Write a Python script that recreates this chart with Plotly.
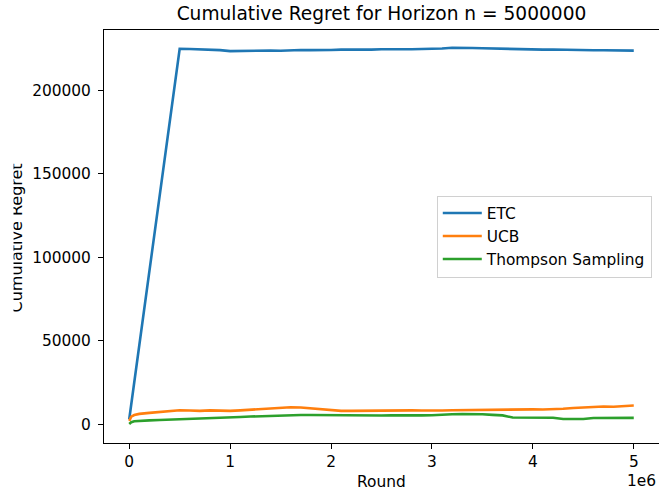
import plotly.graph_objects as go

rounds = [0, 20000, 50000, 100000, 200000, 300000, 400000, 500000,
          600000, 700000, 800000, 900000, 1000000, 1100000, 1200000, 1300000,
          1400000, 1500000, 1600000, 1700000, 1800000, 1900000, 2000000,
          2100000, 2200000, 2300000, 2400000, 2500000, 2600000, 2700000,
          2800000, 2900000, 3000000, 3100000, 3200000, 3300000, 3400000,
          3500000, 3600000, 3700000, 3800000, 3900000, 4000000, 4100000,
          4200000, 4300000, 4400000, 4500000, 4600000, 4700000, 4800000,
          4900000, 5000000]

etc = [3000, 11900, 25200, 47400, 91800, 136200, 180600, 225000,
       224900, 224700, 224600, 224200, 223600, 223700, 224100, 224200,
       224000, 223800, 224100, 224300, 224200, 224100, 224300,
       224500, 224400, 224600, 224500, 224700, 224600, 224800,
       224700, 224900, 224900, 225200, 225600, 225700, 225500,
       225300, 225100, 225000, 224900, 224800, 224700, 224500,
       224600, 224400, 224300, 224200, 224100, 224100, 224000,
       224000, 223900]

ucb = [2000, 4500, 5500, 6200, 6800, 7200, 7800, 8400,
       8200, 8000, 8300, 8100, 8000, 8300, 8700, 9200,
       9600, 9900, 10200, 10000, 9500, 8800, 8200,
       8000, 8000, 8100, 8000, 8300, 8500, 8400,
       8300, 8200, 8100, 8200, 8400, 8500, 8400,
       8600, 8700, 8800, 9000, 9100, 8900, 8800,
       8900, 9300, 9700, 10100, 10400, 10600, 10500,
       10900, 11200]

thompson = [200, 1200, 1800, 2100, 2300, 2500, 2700, 3000,
            3100, 3200, 3300, 3600, 4000, 4300, 4600, 4800,
            5200, 5500, 5600, 5500, 5500, 5400, 5400,
            5300, 5400, 5300, 5300, 5200, 5300, 5200,
            5200, 5300, 5400, 5800, 6000, 6100, 6100,
            6000, 5600, 5300, 4000, 3900, 3900, 3800,
            3900, 3100, 3000, 3100, 3700, 3800, 3900,
            3800, 3800]

series_names = ["ETC", "UCB", "Thompson Sampling"]
series_colors = ["#1f77b4", "#ff7f0e", "#2ca02c"]

x_tickvals = [0, 1000000, 2000000, 3000000, 4000000, 5000000]
x_ticktext = ["0", "1", "2", "3", "4", "5"]
y_tickvals = [0, 50000, 100000, 150000, 200000]
y_ticktext = ["0", "50000", "100000", "150000", "200000"]

FONT = "DejaVu Sans"
FS = 15.4

fig = go.Figure()
for name, vals, col in zip(series_names, [etc, ucb, thompson], series_colors):
    fig.add_trace(go.Scatter(x=rounds, y=vals, mode="lines", name=name,
                             line=dict(color=col, width=2.6)))

axis_common = dict(showline=True, linecolor="#000000", linewidth=1, mirror=True,
                   showgrid=False, zeroline=False, ticks="outside", ticklen=5,
                   tickwidth=1, tickcolor="#000000",
                   tickfont=dict(family=FONT, size=FS, color="#000000"))

fig.update_layout(
    width=659, height=492,
    margin=dict(l=104, r=0, t=30, b=49),
    plot_bgcolor="white", paper_bgcolor="white",
    font=dict(family=FONT, color="#000000"),
    title=dict(text="Cumulative Regret for Horizon n = 5000000",
               font=dict(family=FONT, size=18.6, color="#000000"),
               x=0.5, xref="paper", xanchor="center",
               y=1 - 13 / 492, yref="container", yanchor="middle"),
    xaxis=dict(range=[-250000, 5250000], tickvals=x_tickvals, ticktext=x_ticktext,
               **axis_common),
    yaxis=dict(range=[-11250, 236250], tickvals=y_tickvals, ticktext=y_ticktext,
               ticklabelstandoff=4, **axis_common),
    legend=dict(x=0.987, xanchor="right", y=0.5, yanchor="middle",
                itemwidth=39,
                bgcolor="rgba(255,255,255,0.8)", bordercolor="#d0d0d0",
                borderwidth=1, font=dict(family=FONT, size=FS, color="#000000")),
    annotations=[
        dict(text="Round", xref="paper", yref="paper", x=0.5, y=0,
             xanchor="center", yanchor="middle", yshift=-39, showarrow=False,
             font=dict(family=FONT, size=FS, color="#000000")),
        dict(text="1e6", xref="paper", yref="paper", x=1, y=0,
             xanchor="right", yanchor="middle", yshift=-38, xshift=-1,
             showarrow=False, font=dict(family=FONT, size=FS, color="#000000")),
        dict(text="Cumulative Regret", xref="paper", yref="paper", x=0, y=0.5,
             xanchor="center", yanchor="middle", xshift=-88, yshift=-2,
             textangle=-90, showarrow=False,
             font=dict(family=FONT, size=16, color="#000000")),
        dict(text=" ", xref="paper", yref="paper", x=0, y=0.5,
             xanchor="left", yanchor="middle", xshift=-104, width=12, height=220,
             borderpad=0, bgcolor="white", showarrow=False,
             font=dict(family=FONT, size=14)),
    ],
)

fig.write_html("out.html")
